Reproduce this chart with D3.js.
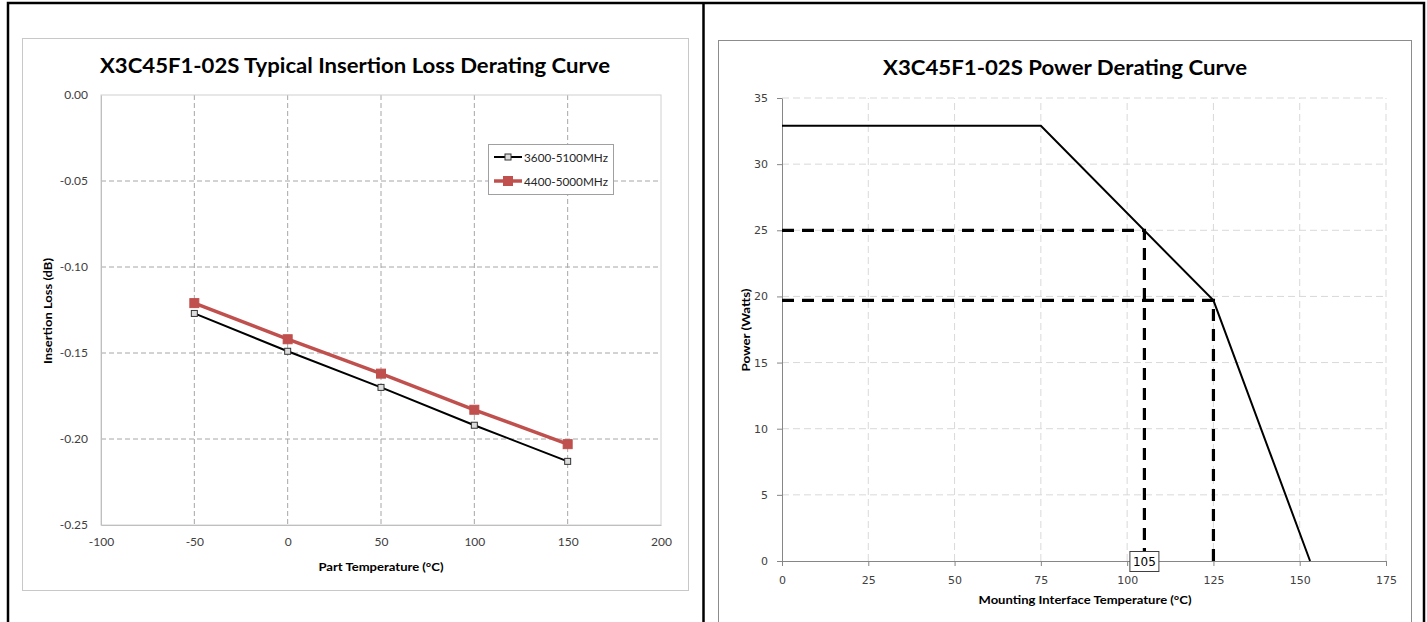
<!DOCTYPE html>
<html>
<meta charset="utf-8">
<head>
<script src="https://cdnjs.cloudflare.com/ajax/libs/d3/7.8.5/d3.min.js"></script>
</head>
<style>
body { margin: 0; background: #fff; }
svg { display: block; }
.tick text { fill: #404040; }
.ttl { font-family: Lato, "Open Sans", sans-serif; font-weight: bold; fill: #000; }
.axt { font-family: Lato, "Open Sans", sans-serif; font-weight: bold; fill: #000; }
</style>
<body>
<svg id="canvas"></svg>
<script>
// insertion loss chart (left)
const lossTemps = [-50, 0, 50, 100, 150];
const loss3600 = [-0.127, -0.149, -0.170, -0.192, -0.213];
const loss4400 = [-0.121, -0.142, -0.162, -0.183, -0.203];
const lossNames = ["3600-5100MHz", "4400-5000MHz"];
const lossXTicks = [-100, -50, 0, 50, 100, 150, 200];
const lossYTicks = [0, -0.05, -0.10, -0.15, -0.20, -0.25];

// power derating chart (right)
const powerTemps = [0, 75, 125, 153];
const powerWatts = [32.9, 32.9, 19.7, 0];
const refTemps = [105, 125];
const refWatts = [25, 19.7];
const markLabel = 105;
const powerXTicks = [0, 25, 50, 75, 100, 125, 150, 175];
const powerYTicks = [0, 5, 10, 15, 20, 25, 30, 35];

const W = 1427, H = 622;
const svg = d3.select('#canvas').attr('width', W).attr('height', H);

// table cell borders
svg.append('rect')
    .attr('x', 8).attr('y', 3).attr('width', 1416).attr('height', 640)
    .attr('fill', 'none').attr('stroke', '#000').attr('stroke-width', 2.5);
svg.append('line')
    .attr('x1', 703.5).attr('x2', 703.5).attr('y1', 3).attr('y2', H)
    .attr('stroke', '#000').attr('stroke-width', 2.5);

/* ---------- left chart ---------- */
const L = svg.append('g');
L.append('rect').attr('x', 22.5).attr('y', 38.5).attr('width', 666).attr('height', 552)
    .attr('fill', 'none').attr('stroke', '#c8c8c8');

const lx = d3.scaleLinear().domain([-100, 200]).range([101, 661]);
const ly = d3.scaleLinear().domain([-0.25, 0]).range([525, 95]);

// grid
L.append('g').selectAll('line').data(lossXTicks.slice(1, -1)).join('line')
    .attr('x1', d => lx(d)).attr('x2', d => lx(d)).attr('y1', ly(0)).attr('y2', ly(-0.25))
    .attr('stroke', '#a6a6a6').attr('stroke-dasharray', '5,3');
L.append('g').selectAll('line').data(lossYTicks.slice(1, -1)).join('line')
    .attr('x1', lx(-100)).attr('x2', lx(200)).attr('y1', d => ly(d)).attr('y2', d => ly(d))
    .attr('stroke', '#a6a6a6').attr('stroke-dasharray', '5,3');
// plot area border
L.append('rect').attr('x', lx(-100)).attr('y', ly(0))
    .attr('width', lx(200) - lx(-100)).attr('height', ly(-0.25) - ly(0))
    .attr('fill', 'none').attr('stroke', '#d0d0d0');

const lAxisX = L.append('g').attr('transform', `translate(0,${ly(-0.25)})`)
    .call(d3.axisBottom(lx).tickValues(lossXTicks).tickSize(0).tickPadding(12).tickFormat(d => String(d)));
const lAxisY = L.append('g').attr('transform', `translate(${lx(-100)},0)`)
    .call(d3.axisLeft(ly).tickValues(lossYTicks).tickSize(0).tickPadding(13).tickFormat(d => d.toFixed(2)));
[lAxisX, lAxisY].forEach(a => {
    a.select('.domain').attr('stroke', '#bfbfbf');
    a.selectAll('text').attr('font-family', 'Lato, sans-serif').attr('font-size', 12);
});

const lline = d3.line().x((d, i) => lx(lossTemps[i])).y(d => ly(d));
const lossSeries = [
    {name: lossNames[0], vals: loss3600, color: '#000', width: 2, size: 6, fill: '#ddd', stroke: '#333'},
    {name: lossNames[1], vals: loss4400, color: '#c0504d', width: 3.5, size: 9, fill: '#c0504d', stroke: '#c0504d'}
];
lossSeries.forEach(s => {
    L.append('path').datum(s.vals).attr('d', lline)
        .attr('fill', 'none').attr('stroke', s.color).attr('stroke-width', s.width);
    L.append('g').selectAll('rect').data(s.vals).join('rect')
        .attr('x', (d, i) => lx(lossTemps[i]) - s.size / 2)
        .attr('y', d => ly(d) - s.size / 2)
        .attr('width', s.size).attr('height', s.size)
        .attr('fill', s.fill).attr('stroke', s.stroke).attr('stroke-width', 1);
});

// legend
const leg = L.append('g');
leg.append('rect').attr('x', 488.5).attr('y', 144.5).attr('width', 125).attr('height', 50)
    .attr('fill', '#fff').attr('stroke', '#a0a0a0');
lossSeries.forEach((s, i) => {
    const yy = 157 + i * 24;
    leg.append('line').attr('x1', 494).attr('x2', 522).attr('y1', yy).attr('y2', yy)
        .attr('stroke', s.color).attr('stroke-width', s.width);
    leg.append('rect').attr('x', 508 - s.size / 2).attr('y', yy - s.size / 2)
        .attr('width', s.size).attr('height', s.size)
        .attr('fill', s.fill).attr('stroke', s.stroke);
    leg.append('text').attr('x', 524).attr('y', yy + 4.5).text(s.name)
        .attr('font-family', 'Lato, sans-serif').attr('font-size', 12).attr('fill', '#262626')
        .attr('textLength', 84).attr('lengthAdjust', 'spacingAndGlyphs');
});

L.append('text').attr('class', 'ttl').attr('x', 355).attr('y', 73).attr('text-anchor', 'middle')
    .attr('font-size', 21).attr('textLength', 510).attr('lengthAdjust', 'spacingAndGlyphs')
    .text('X3C45F1-02S Typical Insertion Loss Derating Curve');
L.append('text').attr('class', 'axt').attr('x', 381).attr('y', 571).attr('text-anchor', 'middle')
    .attr('font-size', 12).attr('textLength', 125).attr('lengthAdjust', 'spacingAndGlyphs')
    .text('Part Temperature (°C)');
L.append('text').attr('class', 'axt').attr('transform', 'translate(52,311) rotate(-90)')
    .attr('text-anchor', 'middle').attr('font-size', 12)
    .attr('textLength', 106).attr('lengthAdjust', 'spacingAndGlyphs')
    .text('Insertion Loss (dB)');

/* ---------- right chart ---------- */
const R = svg.append('g');
R.append('rect').attr('x', 718.5).attr('y', 40.5).attr('width', 693).attr('height', 640)
    .attr('fill', 'none').attr('stroke', '#8c8c8c');

const px = d3.scaleLinear().domain([0, 175]).range([782, 1386]);
const py = d3.scaleLinear().domain([0, 35]).range([561, 98]);

R.append('g').selectAll('line').data(powerXTicks.slice(1)).join('line')
    .attr('x1', d => px(d)).attr('x2', d => px(d)).attr('y1', py(0)).attr('y2', py(35))
    .attr('stroke', '#d9d9d9').attr('stroke-dasharray', '7,4');
R.append('g').selectAll('line').data(powerYTicks.slice(1)).join('line')
    .attr('x1', px(0)).attr('x2', px(175)).attr('y1', d => py(d)).attr('y2', d => py(d))
    .attr('stroke', '#d9d9d9').attr('stroke-dasharray', '7,4');

const pAxisX = R.append('g').attr('transform', `translate(0,${py(0)})`)
    .call(d3.axisBottom(px).tickValues(powerXTicks).tickSizeInner(5).tickSizeOuter(0).tickPadding(10));
const pAxisY = R.append('g').attr('transform', `translate(${px(0)},0)`)
    .call(d3.axisLeft(py).tickValues(powerYTicks).tickSizeInner(5).tickSizeOuter(0).tickPadding(9));
[pAxisX, pAxisY].forEach(a => {
    a.select('.domain').attr('stroke', '#868686');
    a.selectAll('.tick line').attr('stroke', '#868686');
    a.selectAll('text').attr('font-family', '"DejaVu Sans", sans-serif').attr('font-size', 11);
});

// reference dashed lines
refTemps.forEach((t, i) => {
    const w = refWatts[i];
    R.append('path')
        .attr('d', d3.line()([[px(0), py(w)], [px(t), py(w)], [px(t), py(0)]]))
        .attr('fill', 'none').attr('stroke', '#000').attr('stroke-width', 3.2)
        .attr('stroke-dasharray', '12,8');
});

R.append('path')
    .datum(powerTemps.map((t, i) => [t, powerWatts[i]]))
    .attr('d', d3.line().x(d => px(d[0])).y(d => py(d[1])))
    .attr('fill', 'none').attr('stroke', '#000').attr('stroke-width', 2);

// value callout on the axis
R.append('rect').attr('x', px(markLabel) - 14.5).attr('y', 551.5).attr('width', 29).attr('height', 20)
    .attr('fill', '#fff').attr('stroke', '#404040');
R.append('text').attr('x', px(markLabel)).attr('y', 566).attr('text-anchor', 'middle')
    .attr('font-family', '"DejaVu Sans", sans-serif').attr('font-size', 12).attr('fill', '#000')
    .text(markLabel);

R.append('text').attr('class', 'ttl').attr('x', 1065).attr('y', 75).attr('text-anchor', 'middle')
    .attr('font-size', 21).attr('textLength', 364).attr('lengthAdjust', 'spacingAndGlyphs')
    .text('X3C45F1-02S Power Derating Curve');
R.append('text').attr('class', 'axt').attr('x', 1085).attr('y', 604).attr('text-anchor', 'middle')
    .attr('font-size', 12).attr('textLength', 213).attr('lengthAdjust', 'spacingAndGlyphs')
    .text('Mounting Interface Temperature (°C)');
R.append('text').attr('class', 'axt').attr('transform', 'translate(750,330) rotate(-90)')
    .attr('text-anchor', 'middle').attr('font-size', 11.5)
    .attr('textLength', 83).attr('lengthAdjust', 'spacingAndGlyphs')
    .text('Power (Watts)');
</script>
</body>
</html>
